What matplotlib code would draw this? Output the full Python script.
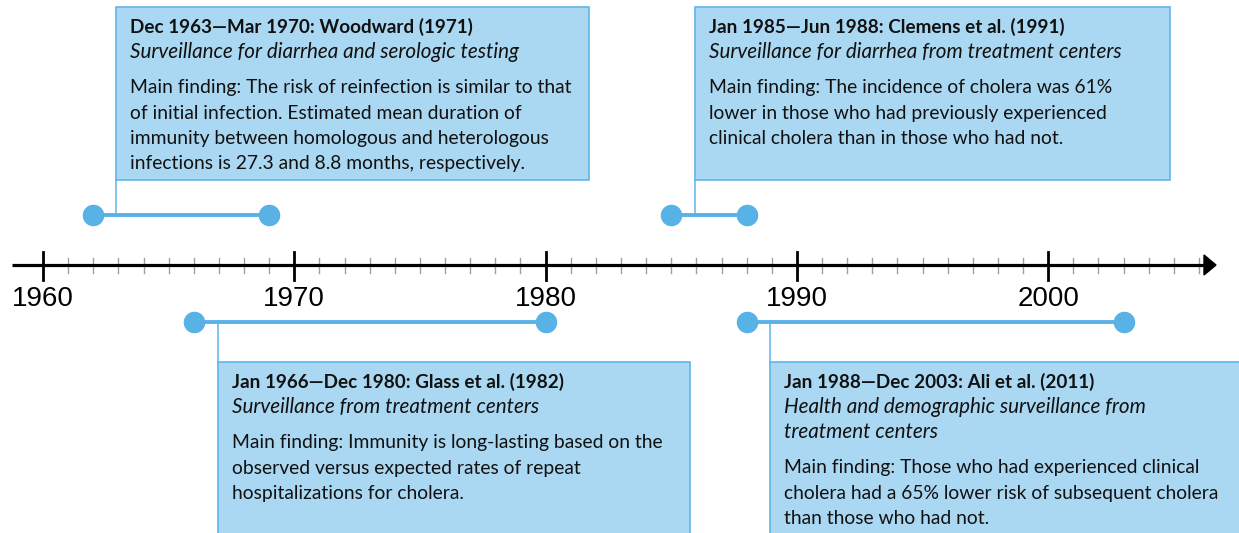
import matplotlib
matplotlib.use("Agg")
import matplotlib.pyplot as plt
from matplotlib.patches import Rectangle, Polygon

# ---- data ----
titles = [
    "Dec 1963\u2014Mar 1970: Woodward (1971)",
    "Jan 1966\u2014Dec 1980: Glass et al. (1982)",
    "Jan 1985\u2014Jun 1988: Clemens et al. (1991)",
    "Jan 1988\u2014Dec 2003: Ali et al. (2011)",
]
subtitles = [
    ["Surveillance for diarrhea and serologic testing"],
    ["Surveillance from treatment centers"],
    ["Surveillance for diarrhea from treatment centers"],
    ["Health and demographic surveillance from", "treatment centers"],
]
findings = [
    ["Main finding: The risk of reinfection is similar to that",
     "of initial infection. Estimated mean duration of",
     "immunity between homologous and heterologous",
     "infections is 27.3 and 8.8 months, respectively."],
    ["Main finding: Immunity is long-lasting based on the",
     "observed versus expected rates of repeat",
     "hospitalizations for cholera."],
    ["Main finding: The incidence of cholera was 61%",
     "lower in those who had previously experienced",
     "clinical cholera than in those who had not."],
    ["Main finding: Those who had experienced clinical",
     "cholera had a 65% lower risk of subsequent cholera",
     "than those who had not."],
]
start_years = [1962, 1966, 1985, 1988]
end_years = [1969, 1980, 1988, 2003]
major_years = [1960, 1970, 1980, 1990, 2000]

# ---- layout (pixel-based y, year-based x) ----
W, H = 1239, 533
px_per_year = 25.13
x0_px = 43.0
def yr(px):
    return 1960 + (px - x0_px) / px_per_year

above = [True, False, True, False]
dot_y = [215, 322, 215, 322]
conn_px = [116, 218, 695, 770]
box_top = [7, 362, 7, 362]
box_bot = [180, 545, 180, 545]
box_right_px = [589, 690, 1170, 1245]

fill = "#aad8f2"
edge = "#62b5e8"
dotc = "#58b2e6"
axis_y = 265

fig = plt.figure(figsize=(W / 100, H / 100), dpi=100)
ax = fig.add_axes([0, 0, 1, 1])
ax.set_xlim(yr(0), yr(W))
ax.set_ylim(H, 0)
ax.axis("off")

# timeline
ax.plot([yr(12), yr(1206)], [axis_y, axis_y], color="black", lw=2.3, solid_capstyle="butt", zorder=3)
ax.add_patch(Polygon([[yr(1204), axis_y - 10], [yr(1216), axis_y], [yr(1204), axis_y + 10]],
                     closed=True, color="black", zorder=3))
for y in range(1960, 2007):
    if y in major_years:
        ax.plot([y, y], [axis_y - 13, axis_y + 15], color="black", lw=2.0, zorder=3)
        ax.text(y, axis_y + 34, str(y), ha="center", va="center", fontsize=20,
                family="Liberation Sans", color="black")
    else:
        ax.plot([y, y], [axis_y - 7, axis_y + 8], color="#a0a0a0", lw=1.0, zorder=2)

fs_title, fs_sub, fs_find = 13.6, 14.9, 13.9
for i in range(4):
    # interval
    ax.plot([start_years[i], end_years[i]], [dot_y[i], dot_y[i]], color=dotc, lw=2.8,
            marker="o", markersize=14.5, markerfacecolor=dotc, markeredgecolor=dotc, zorder=4)
    # box
    bx = yr(conn_px[i])
    bw = yr(box_right_px[i]) - bx
    ax.add_patch(Rectangle((bx, box_top[i]), bw, box_bot[i] - box_top[i],
                           facecolor=fill, edgecolor=edge, lw=1.2, zorder=3))
    # connector
    if above[i]:
        ax.plot([bx, bx], [box_bot[i], dot_y[i]], color=edge, lw=1.1, zorder=3)
    else:
        ax.plot([bx, bx], [dot_y[i], box_top[i]], color=edge, lw=1.1, zorder=3)
    tx = yr(conn_px[i] + 14)
    y = box_top[i] + 20
    ax.text(tx, y, titles[i], fontsize=fs_title, fontweight="bold", family="Lato",
            va="center", ha="left", color="#111111", zorder=5)
    for s in subtitles[i]:
        y += 25
        ax.text(tx, y, s, fontsize=fs_sub, style="italic", family="Lato",
                va="center", ha="left", color="#111111", zorder=5)
    y += 10.5
    for f in findings[i]:
        y += 25.3
        ax.text(tx, y, f, fontsize=fs_find, family="Lato",
                va="center", ha="left", color="#111111", zorder=5)

fig.savefig("out.png", dpi=100)
